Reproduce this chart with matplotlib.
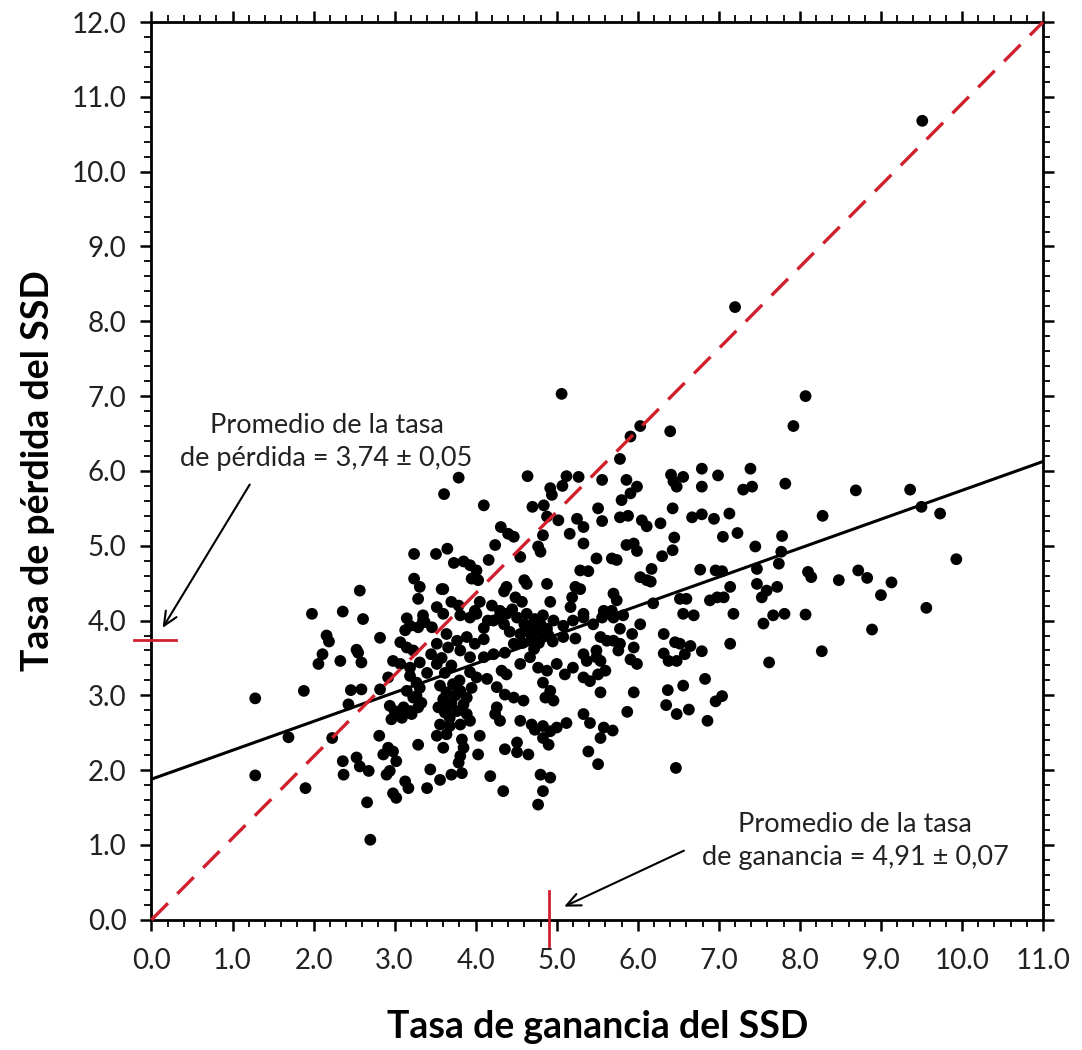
import matplotlib
matplotlib.use("Agg")
import matplotlib.pyplot as plt
from matplotlib.ticker import MultipleLocator, FormatStrFormatter

plt.rcParams['font.family'] = ['Lato', 'DejaVu Sans']

# tasa de ganancia (x) y tasa de perdida (y) por punto
ganancia = [
    9.51, 7.20, 5.06, 8.07, 7.92, 6.03, 6.40, 5.91, 5.78,
    7.82, 8.69, 9.36, 9.50, 9.73, 8.28, 7.78, 7.77, 7.74, 9.93, 8.10, 8.14, 8.48, 8.72,
    8.83, 9.13, 9.00, 7.72, 9.56, 7.81, 8.07, 8.89, 8.27,
    7.39, 7.30, 7.41, 7.23, 7.45, 7.47, 7.47, 7.59, 7.53, 7.55, 7.67, 7.62, 7.18, 7.14,
    7.13, 7.14,
    5.56, 5.86, 5.99, 5.91, 5.80, 6.41, 6.44, 6.48, 6.56, 6.79, 6.99, 6.79, 5.51, 6.43,
    5.56, 5.78, 5.88, 6.05, 6.11, 6.28, 6.67, 6.79, 6.94, 6.45, 7.05, 5.86, 5.95, 5.99,
    6.43, 6.30, 5.68, 5.74, 5.49, 6.17, 6.03, 6.11, 6.16, 6.77, 6.96, 7.04, 5.70, 5.74,
    5.68, 5.58, 5.56, 6.19, 6.52, 6.60, 6.89, 6.98, 7.06, 6.56, 6.69,
    5.70, 5.82, 6.03, 5.78, 5.93, 6.32, 5.54, 5.62, 5.70, 5.78, 5.76, 5.95, 5.91, 5.99,
    6.46, 6.52, 6.65, 6.32, 6.38, 6.48, 6.58, 6.79, 5.49, 5.54, 5.60, 5.51, 5.54, 5.95,
    6.37, 6.56, 6.83, 5.87, 6.35, 6.48, 6.63, 6.86, 6.96, 7.04, 5.58, 5.69, 5.54, 5.51,
    6.47,
    4.64, 5.12, 5.27, 5.07, 4.92, 4.94, 4.10, 4.70, 4.84, 4.88, 5.02, 5.25, 5.33, 4.31,
    4.40, 4.47, 4.83, 5.16, 5.33, 4.24, 4.77, 4.80, 4.55, 4.16, 3.65, 3.51, 3.73, 3.85,
    3.93, 4.01, 5.29, 5.39, 3.95, 4.03, 4.38, 4.35, 4.60, 4.63, 4.88, 5.23, 5.29, 3.60,
    3.70, 3.79, 4.05, 3.99, 4.49, 4.57, 4.30, 4.38, 4.92, 5.19, 5.17, 5.33, 3.52, 3.60,
    3.35,
    3.79, 3.61, 3.24, 3.24, 3.31, 3.29, 2.57, 1.98, 2.36, 2.61, 3.15, 2.16, 2.19, 2.82,
    2.53, 3.13, 3.19, 3.37, 3.58,
    3.29, 3.07, 3.15, 3.23, 2.11, 2.06, 2.33, 2.55, 2.59, 2.98, 3.07, 3.19, 2.92, 1.28,
    1.88, 2.46, 2.59, 2.82, 2.43, 2.94, 3.00, 2.96, 3.09, 3.21, 1.69, 2.23, 2.81, 2.92,
    2.98, 2.86, 3.02, 2.36, 2.53, 2.57, 2.68, 2.37, 2.90, 2.94, 1.28, 1.90, 3.13, 3.17,
    2.98, 3.02, 2.66, 2.70, 3.29, 3.19, 3.27, 3.15, 3.23, 3.11, 3.19, 3.29, 3.27, 3.31,
    3.35, 3.46, 3.81, 3.93, 4.01, 4.22, 4.30, 4.51, 4.63, 4.73, 4.83, 4.96, 4.63, 4.75,
    4.88, 4.55, 4.69, 4.83, 5.08, 5.20, 5.33, 5.45, 5.08, 5.23, 3.64, 3.77, 3.89, 3.99,
    4.10, 3.52, 3.66, 3.81, 3.31, 3.52, 3.93, 4.10, 4.22, 4.36, 4.47, 4.55, 4.67, 4.32,
    4.38, 3.93, 4.01, 4.14, 4.77, 4.88, 5.00, 5.10, 5.20, 5.33, 5.37, 5.49, 4.83, 4.92,
    4.86, 4.96, 5.33, 5.41, 3.33, 3.56, 3.64, 3.81, 3.89, 4.26, 4.36, 4.47, 4.59, 4.26,
    4.24, 4.30, 3.54, 3.62, 3.68, 3.77, 3.89, 3.56, 3.68, 3.81, 3.93, 3.52, 3.64, 4.55,
    4.69, 4.73, 4.83, 4.92, 5.00, 4.83, 4.90, 5.12, 5.33, 5.41, 3.60, 3.83, 3.85, 4.05,
    4.03, 3.81, 3.79, 4.36, 4.51, 4.51, 4.65, 5.39, 3.44, 3.56, 3.40, 3.70, 3.83, 4.18,
    4.34, 4.80, 4.92, 4.83, 4.77,
    4.60, 4.70, 4.80, 4.65, 4.78, 4.90, 4.58, 4.72, 4.42, 4.95,
    3.70, 3.75, 3.85, 3.60, 3.72, 3.80, 3.95, 3.66,
    3.45, 3.58, 3.40, 3.62, 3.70,
    4.15, 4.10, 4.20, 4.35, 4.45,
]
perdida = [
    10.68, 8.19, 7.03, 7.00, 6.60, 6.60, 6.53, 6.46, 6.16,
    5.83, 5.74, 5.75, 5.52, 5.43, 5.40, 5.13, 4.92, 4.76, 4.82, 4.65, 4.58, 4.54, 4.67,
    4.57, 4.51, 4.34, 4.45, 4.17, 4.09, 4.08, 3.88, 3.59,
    6.03, 5.75, 5.79, 5.17, 4.99, 4.69, 4.49, 4.40, 4.31, 3.96, 4.07, 3.44, 4.09, 4.45,
    5.43, 3.69,
    5.88, 5.88, 5.79, 5.70, 5.61, 5.95, 5.86, 5.79, 5.92, 6.03, 5.94, 5.79, 5.50, 5.50,
    5.33, 5.38, 5.40, 5.34, 5.26, 5.30, 5.38, 5.42, 5.36, 5.11, 5.12, 5.01, 5.03, 4.93,
    4.94, 4.86, 4.83, 4.81, 4.83, 4.69, 4.58, 4.54, 4.52, 4.68, 4.67, 4.66, 4.36, 4.27,
    4.13, 4.13, 4.04, 4.23, 4.29, 4.29, 4.27, 4.31, 4.31, 4.09, 4.07,
    4.04, 4.07, 3.95, 3.89, 3.82, 3.82, 3.78, 3.73, 3.73, 3.69, 3.60, 3.64, 3.48, 3.42,
    3.71, 3.69, 3.66, 3.56, 3.46, 3.46, 3.55, 3.59, 3.60, 3.46, 3.33, 3.28, 3.04, 3.04,
    3.07, 3.13, 3.22, 2.78, 2.87, 2.75, 2.81, 2.66, 2.92, 2.99, 2.57, 2.53, 2.43, 2.08,
    2.03,
    5.93, 5.93, 5.92, 5.80, 5.77, 5.68, 5.54, 5.52, 5.54, 5.39, 5.34, 5.36, 5.25, 5.25,
    5.16, 5.12, 5.14, 5.16, 5.03, 5.01, 4.99, 4.92, 4.85, 4.81, 4.96, 4.89, 4.77, 4.79,
    4.74, 4.67, 4.67, 4.66, 4.56, 4.54, 4.45, 4.39, 4.54, 4.49, 4.49, 4.45, 4.42, 4.42,
    4.25, 4.20, 4.25, 4.13, 4.31, 4.25, 4.13, 4.09, 4.25, 4.31, 4.18, 4.09, 4.18, 4.09,
    4.07,
    5.91, 5.69, 4.89, 4.56, 4.45, 4.29, 4.40, 4.09, 4.12, 4.02, 4.03, 3.80, 3.72, 3.77,
    3.61, 3.87, 3.93, 3.98, 4.42,
    3.91, 3.71, 3.64, 3.60, 3.55, 3.42, 3.46, 3.57, 3.44, 3.46, 3.42, 3.37, 3.24, 2.96,
    3.06, 3.07, 3.08, 3.08, 2.88, 2.86, 2.79, 2.68, 2.70, 2.75, 2.44, 2.43, 2.46, 2.30,
    2.25, 2.21, 2.12, 2.12, 2.17, 2.05, 1.99, 1.94, 1.94, 1.99, 1.93, 1.76, 1.85, 1.76,
    1.69, 1.63, 1.57, 1.07, 2.34, 3.26, 3.17, 3.06, 2.97, 2.84, 2.79, 2.84, 2.99, 3.10,
    4.00, 3.91, 4.07, 4.04, 4.09, 4.00, 4.07, 4.04, 4.09, 4.02, 4.07, 4.00, 3.91, 3.87,
    3.89, 3.82, 3.76, 3.78, 3.93, 4.00, 4.04, 3.95, 3.78, 3.76, 3.82, 3.73, 3.78, 3.69,
    3.75, 3.69, 3.64, 3.60, 3.44, 3.42, 3.51, 3.51, 3.55, 3.57, 3.69, 3.42, 3.51, 3.33,
    3.28, 3.31, 3.24, 3.22, 3.37, 3.33, 3.42, 3.28, 3.37, 3.55, 3.46, 3.51, 3.17, 3.06,
    2.97, 2.93, 3.24, 3.19, 2.90, 3.13, 3.04, 3.06, 2.97, 3.11, 3.01, 2.97, 2.93, 2.84,
    2.75, 2.66, 2.84, 2.77, 2.70, 2.79, 2.75, 2.61, 2.59, 2.61, 2.66, 2.46, 2.48, 2.66,
    2.61, 2.54, 2.59, 2.52, 2.57, 2.43, 2.34, 2.63, 2.75, 2.63, 2.30, 2.41, 2.30, 2.46,
    2.21, 2.19, 2.10, 2.28, 2.37, 2.24, 2.21, 2.25, 2.01, 1.87, 1.76, 1.94, 1.96, 1.92,
    1.72, 1.94, 1.90, 1.72, 1.54,
    3.95, 3.95, 3.95, 3.85, 3.70, 3.80, 3.70, 3.62, 3.85, 3.72,
    2.90, 3.00, 2.88, 2.95, 3.15, 3.20, 3.10, 2.85,
    3.55, 3.50, 3.30, 3.30, 3.40,
    4.00, 3.90, 4.20, 3.95, 4.15,
]

# recta de regresion y promedios
fit_intercept = 1.88
fit_slope = 0.386
media_perdida = 3.74
media_ganancia = 4.91
x_max = 11.0
y_max = 12.0

fig = plt.figure(figsize=(10.82, 10.5), dpi=100)
ax = fig.add_axes([0.140, 0.124, 0.824, 0.855])

ax.scatter(ganancia, perdida, s=72, color='black', edgecolors='none', zorder=3)

ax.plot([0, x_max], [fit_intercept, fit_intercept + fit_slope * x_max],
        color='black', lw=2.2, zorder=4)
ax.plot([0, x_max], [0, y_max], color='#d0202e', lw=2.4,
        dashes=(7, 4), zorder=5, clip_on=False)

# marcas rojas de los promedios en los ejes
ax.plot([-0.22, 0.3], [media_perdida, media_perdida], color='#d0202e', lw=2,
        clip_on=False, zorder=6)
ax.plot([media_ganancia, media_ganancia], [-0.35, 0.38], color='#d0202e', lw=2,
        clip_on=False, zorder=6)

ax.set_xlim(0, x_max)
ax.set_ylim(0, y_max)
ax.xaxis.set_major_locator(MultipleLocator(1.0))
ax.xaxis.set_minor_locator(MultipleLocator(0.2))
ax.yaxis.set_major_locator(MultipleLocator(1.0))
ax.yaxis.set_minor_locator(MultipleLocator(0.2))
ax.xaxis.set_major_formatter(FormatStrFormatter('%.1f'))
ax.yaxis.set_major_formatter(FormatStrFormatter('%.1f'))

ax.tick_params(which='both', direction='out', top=True, right=True,
               labeltop=False, labelright=False, color='black')
ax.tick_params(which='major', length=8, width=1.8, labelsize=20, labelcolor='#222222')
ax.tick_params(axis='x', which='major', pad=12)
ax.tick_params(axis='y', which='major', pad=10)
ax.tick_params(which='minor', length=5, width=1.3)
for sp in ax.spines.values():
    sp.set_linewidth(2.0)

ax.set_xlabel('Tasa de ganancia del SSD', fontsize=27, fontweight='bold', labelpad=26)
ax.set_ylabel('Tasa de pérdida del SSD', fontsize=27, fontweight='bold', labelpad=12)

ax.text(2.16, 6.38, 'Promedio de la tasa\nde pérdida = 3,74 ± 0,05', ha='center',
        va='center', fontsize=19.5, linespacing=1.4, color='#222222')
ax.annotate('', xy=(0.12, 3.87), xytext=(1.23, 5.85),
            arrowprops=dict(arrowstyle='->,head_length=1.0,head_width=0.45',
                            lw=1.5, color='black'))

ax.text(8.68, 1.05, 'Promedio de la tasa\nde ganancia = 4,91 ± 0,07', ha='center',
        va='center', fontsize=19.5, linespacing=1.4, color='#222222')
ax.annotate('', xy=(5.06, 0.16), xytext=(6.60, 0.94),
            arrowprops=dict(arrowstyle='->,head_length=1.0,head_width=0.45',
                            lw=1.5, color='black'))

fig.savefig('out.png', dpi=100)
